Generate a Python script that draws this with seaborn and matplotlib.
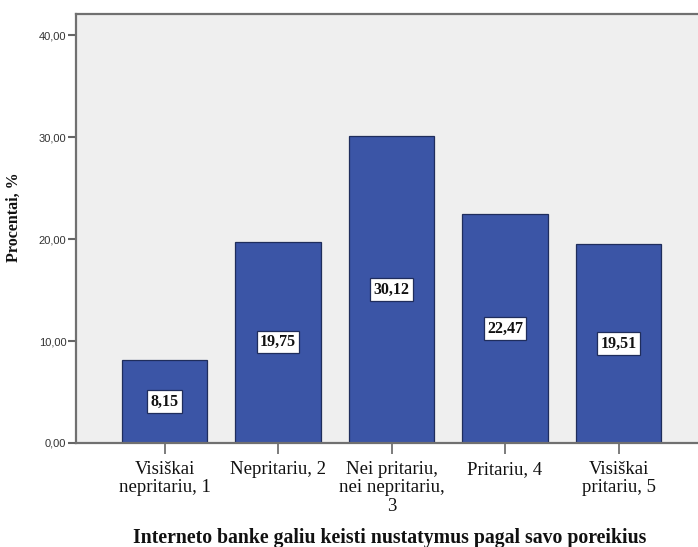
import matplotlib
matplotlib.use("Agg")
import matplotlib.pyplot as plt
from matplotlib.ticker import FuncFormatter, FixedLocator
import seaborn as sns
import pandas as pd

categories = [
    "Visiškai\nnepritariu, 1",
    "Nepritariu, 2",
    "Nei pritariu,\nnei nepritariu,\n3",
    "Pritariu, 4",
    "Visiškai\npritariu, 5",
]
percentages = [8.15, 19.75, 30.12, 22.47, 19.51]
y_ticks = [0, 10, 20, 30, 40]

df = pd.DataFrame({"kategorija": categories, "procentai": percentages})

sns.set_style("white")
plt.rcParams["font.family"] = ["Liberation Serif", "DejaVu Serif"]

fig = plt.figure(figsize=(6.98, 5.47), dpi=100)
ax = fig.add_axes([76 / 698, 104 / 547, 622 / 698, 429 / 547])
ax.set_facecolor("#efefef")

bar_color = "#3b55a6"
sns.barplot(data=df, x="kategorija", y="procentai", color=bar_color,
            saturation=1, width=0.75, edgecolor="#1f2d5c", linewidth=0.9,
            ax=ax)

ax.set_xlim(-0.78, 4.70)
ax.set_ylim(0, 42.06)

# value labels in the middle of each bar
for i, v in enumerate(percentages):
    ax.text(i, v / 2, f"{v:.2f}".replace(".", ","), ha="center", va="center",
            fontsize=11.5, fontweight="bold", color="#111111",
            bbox=dict(boxstyle="square,pad=0.2", facecolor="white",
                      edgecolor="#1f2d5c", linewidth=0.9))

ax.yaxis.set_major_locator(FixedLocator(y_ticks))
ax.yaxis.set_major_formatter(FuncFormatter(lambda v, p: f"{v:.2f}".replace(".", ",")))
for lab in ax.get_yticklabels():
    lab.set_fontfamily(["Liberation Sans", "DejaVu Sans"])
    lab.set_fontsize(8)
    lab.set_color("#333333")

ax.tick_params(axis="y", left=True, direction="out", length=6, width=1.5,
               color="#666666", pad=1)
ax.tick_params(axis="x", bottom=True, direction="out", length=8, width=1.2,
               color="#666666", labelsize=13.5, labelcolor="#111111", pad=5)
for lab in ax.get_xticklabels():
    lab.set_linespacing(1.1)

for side in ["left", "bottom", "top"]:
    ax.spines[side].set_color("#707070")
    ax.spines[side].set_linewidth(1.6)
ax.spines["right"].set_visible(False)

ax.set_xlabel("Interneto banke galiu keisti nustatymus pagal savo poreikius",
              fontsize=14.2, fontweight="bold", color="#111111")
ax.xaxis.set_label_coords(0.505, -0.198)
ax.set_ylabel("Procentai, %", fontsize=11.5, fontweight="bold", color="#111111")
ax.yaxis.set_label_coords(-0.087, 0.527)

fig.savefig("out.png", dpi=100, facecolor="white")
